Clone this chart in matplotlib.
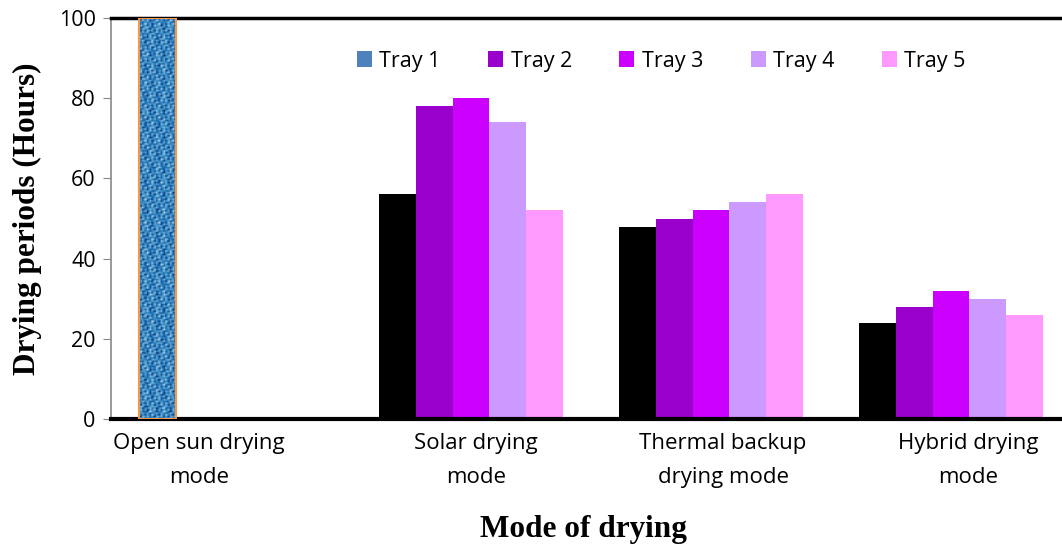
import numpy as np
import matplotlib.pyplot as plt
import matplotlib.transforms as mtransforms
from matplotlib.patches import Patch

modes = ["Open sun drying\nmode", "Solar drying\nmode", "Thermal backup\ndrying mode", "Hybrid drying\nmode"]
trays = ["Tray 1", "Tray 2", "Tray 3", "Tray 4", "Tray 5"]
tray1 = [100, 56, 48, 24]
tray2 = [0, 78, 50, 28]
tray3 = [0, 80, 52, 32]
tray4 = [0, 74, 54, 30]
tray5 = [0, 52, 56, 26]
series = [tray1, tray2, tray3, tray4, tray5]
colors = ["#000000", "#9900CC", "#CC00FF", "#CC99FF", "#FF99FF"]

fig = plt.figure(figsize=(10.62, 5.49), dpi=100)
ax = fig.add_axes([111 / 1062, 130 / 549, 960 / 1062, 401 / 549])

x = np.arange(len(modes))
w = 0.154
for i, vals in enumerate(series):
    bars = ax.bar(x + (i - 2) * w, vals, w, color=colors[i], linewidth=0, zorder=2)
    if i == 0:
        # open sun bar gets a woven denim look
        b = bars[0]
        b.set_facecolor("#4F81BD")
        b.set_zorder(3)
        yy, xx = np.mgrid[0:240, 0:24]
        weave = (np.sin(xx * 2.1) * np.cos(yy * 0.9) + 0.6 * np.sin(yy * 2.7 + xx * 0.7)
                 + 0.4 * np.cos(xx * 1.3 + yy * 1.9) + 0.5 * np.sin(yy * 0.37) * np.cos(xx * 0.8))
        x0 = b.get_x()
        im = ax.imshow(weave, cmap="Blues", vmin=-3.2, vmax=1.6,
                       extent=[x0, x0 + w, 0, vals[0]], aspect="auto", zorder=3.5,
                       interpolation="bilinear")
        im.set_clip_path(b)
        ax.bar(x0 + w / 2, vals[0], w, facecolor="none",
               edgecolor="#F79646", linewidth=1.5, zorder=4)

ax.set_xlim(-0.5, 3.5)
ax.set_ylim(0, 100)
ax.set_yticks(range(0, 101, 20))
ax.set_xticks(x)
ax.set_xticklabels(modes, fontsize=16, family="Open Sans", linespacing=1.8)
ax.tick_params(axis="x", length=0, pad=10)
ax.tick_params(axis="y", length=6, color="#888888", labelsize=15.5, direction="out", pad=5)
for t in ax.get_yticklabels():
    t.set_family("Open Sans")

# nudge the category labels sideways (pixels)
label_shift = [-32, 5, 12, 17]
for lab, dx in zip(ax.get_xticklabels(), label_shift):
    lab.set_transform(lab.get_transform() + mtransforms.ScaledTranslation(dx / 100, 0, fig.dpi_scale_trans))

ax.spines["right"].set_visible(False)
ax.spines["left"].set_color("#888888")
ax.spines["left"].set_linewidth(1.2)
ax.spines["top"].set_linewidth(2.5)
ax.spines["bottom"].set_linewidth(3)

fig.text(27 / 1062, 1 - 219 / 549, "Drying periods (Hours)", family="Liberation Serif",
         fontweight="bold", fontsize=22.5, ha="center", va="center", rotation=90)
fig.text(583 / 1062, 1 - 530 / 549, "Mode of drying", family="Liberation Serif",
         fontweight="bold", fontsize=22.5, ha="center", va="center")

legend_colors = ["#4F81BD"] + colors[1:]
handles = [Patch(facecolor=c, label=t) for c, t in zip(legend_colors, trays)]
ax.legend(handles=handles, loc="center left", bbox_to_anchor=(237 / 960, 1 - 43 / 401), ncol=5,
          frameon=False, prop={"family": "Open Sans", "size": 15.5}, handlelength=0.7,
          handleheight=0.7, handletextpad=0.35, columnspacing=2.2, borderaxespad=0)

fig.savefig("out.png", dpi=100)
